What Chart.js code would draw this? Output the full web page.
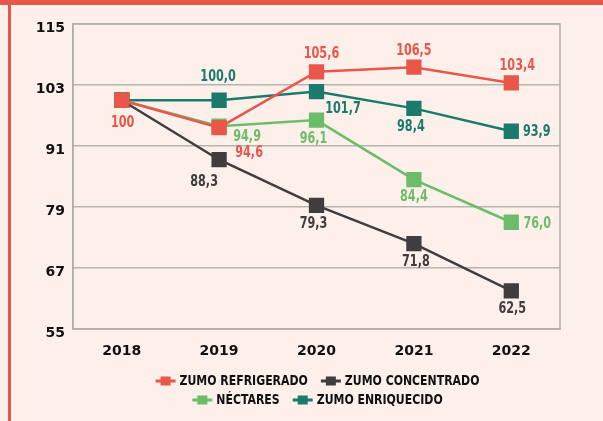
<!DOCTYPE html>
<html><head><meta charset="utf-8">
<script src="https://cdn.jsdelivr.net/npm/chart.js@4/dist/chart.umd.min.js"></script>
<style>
html,body{margin:0;padding:0;background:#fdf0eb;}
#wrap{position:relative;width:603px;height:421px;}
</style></head>
<body><div id="wrap"><canvas id="c" width="603" height="421"></canvas></div>
<script>
const categories = ['2018','2019','2020','2021','2022'];
const refrigerado = [100, 94.6, 105.6, 106.5, 103.4];
const concentrado = [100, 88.3, 79.3, 71.8, 62.5];
const nectares = [100, 94.9, 96.1, 84.4, 76.0];
const enriquecido = [100, 100.0, 101.7, 98.4, 93.9];
const seriesNames = ['ZUMO REFRIGERADO','ZUMO CONCENTRADO','NÉCTARES','ZUMO ENRIQUECIDO'];
const yTicks = [55, 67, 79, 91, 103, 115];

const colors = ['#e9574a', '#3f3d3d', '#6cbd6a', '#1b7a6b'];
// label offsets (dx, dy) per point; null = no label
const labelOffsets = [
  [[1,22.5],[30,25],[5,-17.5],[0,-16],[6,-17]],
  [null,[-15,22],[-3,18],[2,18.5],[1,18]],
  [null,[28,11],[-3,19],[0,17.5],[26,2]],
  [null,[-1,-23],[26.5,17],[-3,18.5],[25.5,1]]
];
const fmt = v => v.toFixed(1).replace('.', ',');
const fmtFirst = v => String(v);

const data = [refrigerado, concentrado, nectares, enriquecido];
const condFont = "'DejaVu Sans Condensed','DejaVu Sans',sans-serif";

function condText(ctx, txt, x, y, sx, align){
  ctx.save();
  ctx.translate(x, y);
  ctx.scale(sx, 1);
  ctx.textAlign = align;
  ctx.fillText(txt, 0, 0);
  ctx.restore();
}

const bgPlugin = {
  id:'bg',
  beforeDraw(chart){
    const ctx = chart.ctx;
    ctx.save();
    ctx.fillStyle = '#fdf0eb';
    ctx.fillRect(0,0,chart.width,chart.height);
    ctx.fillStyle = '#e9574a';
    ctx.fillRect(0,0,chart.width,5);
    ctx.fillRect(8,0,3,chart.height);
    ctx.restore();
  },
  beforeDatasetsDraw(chart){
    const {ctx, chartArea:a} = chart;
    ctx.save();
    ctx.strokeStyle = '#b3aeab';
    ctx.lineWidth = 1.5;
    ctx.strokeRect(a.left, a.top, a.right-a.left, a.bottom-a.top);
    ctx.restore();
  },
  afterDatasetsDraw(chart){
    const ctx = chart.ctx;
    ctx.save();
    ctx.font = "bold 16px " + condFont;
    ctx.textBaseline = 'middle';
    chart.data.datasets.forEach((ds, i) => {
      const meta = chart.getDatasetMeta(i);
      meta.data.forEach((pt, j) => {
        const off = labelOffsets[i][j];
        if (!off) return;
        const v = ds.data[j];
        const txt = (i===0 && j===0) ? fmtFirst(v) : fmt(v);
        ctx.fillStyle = colors[i];
        condText(ctx, txt, pt.x + off[0], pt.y + off[1], 0.78, 'center');
      });
    });
    ctx.restore();
  },
  afterDraw(chart){
    const ctx = chart.ctx;
    ctx.save();
    ctx.font = "bold 13.5px " + condFont;
    ctx.textBaseline = 'middle';
    const sx = 0.9;
    const rows = [[0,1],[2,3]];
    const rowY = [381, 400];
    const markW = 20, gap = 4, itemGap = 13;
    rows.forEach((row, r) => {
      const widths = row.map(i => markW + gap + ctx.measureText(seriesNames[i]).width * sx);
      const total = widths.reduce((a,b)=>a+b,0) + itemGap*(row.length-1);
      let x = chart.width/2 + 16 - total/2;
      row.forEach((i, k) => {
        const y = rowY[r];
        ctx.fillStyle = colors[i];
        ctx.fillRect(x, y-1.5, markW, 3);
        ctx.fillRect(x+5, y-4.5, 10, 9);
        ctx.fillStyle = '#111';
        condText(ctx, seriesNames[i], x + markW + gap, y+0.5, sx, 'left');
        x += widths[k] + itemGap;
      });
    });
    ctx.restore();
  }
};

const tickFont = {family:"'DejaVu Sans',sans-serif", weight:'bold', size:14};

new Chart(document.getElementById('c'), {
  type:'line',
  data:{
    labels: categories,
    datasets: data.map((d,i)=>({
      label: seriesNames[i],
      data: d,
      borderColor: colors[i],
      backgroundColor: colors[i],
      borderWidth: 2.5,
      pointStyle: 'rect',
      pointRadius: 10.8,
      pointHoverRadius: 10.8,
      pointBorderWidth: 0,
      tension: 0,
      fill: false
    }))
  },
  options:{
    responsive:false,
    animation:false,
    events:[],
    layout:{padding:{left:0, right:43, top:24, bottom:52}},
    plugins:{legend:{display:false}, tooltip:{enabled:false}},
    scales:{
      x:{
        offset:true,
        grid:{display:false, drawTicks:false},
        border:{display:true, color:'#b3aeab', width:1.5},
        ticks:{padding:14, color:'#111', font:tickFont},
        afterFit(s){ s.height = 40; }
      },
      y:{
        min:55, max:115,
        afterBuildTicks(s){ s.ticks = yTicks.map(v=>({value:v})); },
        grid:{color:'#b8b3b0', lineWidth:1.5, drawTicks:false},
        border:{display:true, color:'#b3aeab', width:1.5},
        ticks:{padding:8, labelOffset:4, color:'#111', font:tickFont},
        afterFit(s){ s.width = 73; }
      }
    }
  },
  plugins:[bgPlugin]
});
</script>
</body></html>
